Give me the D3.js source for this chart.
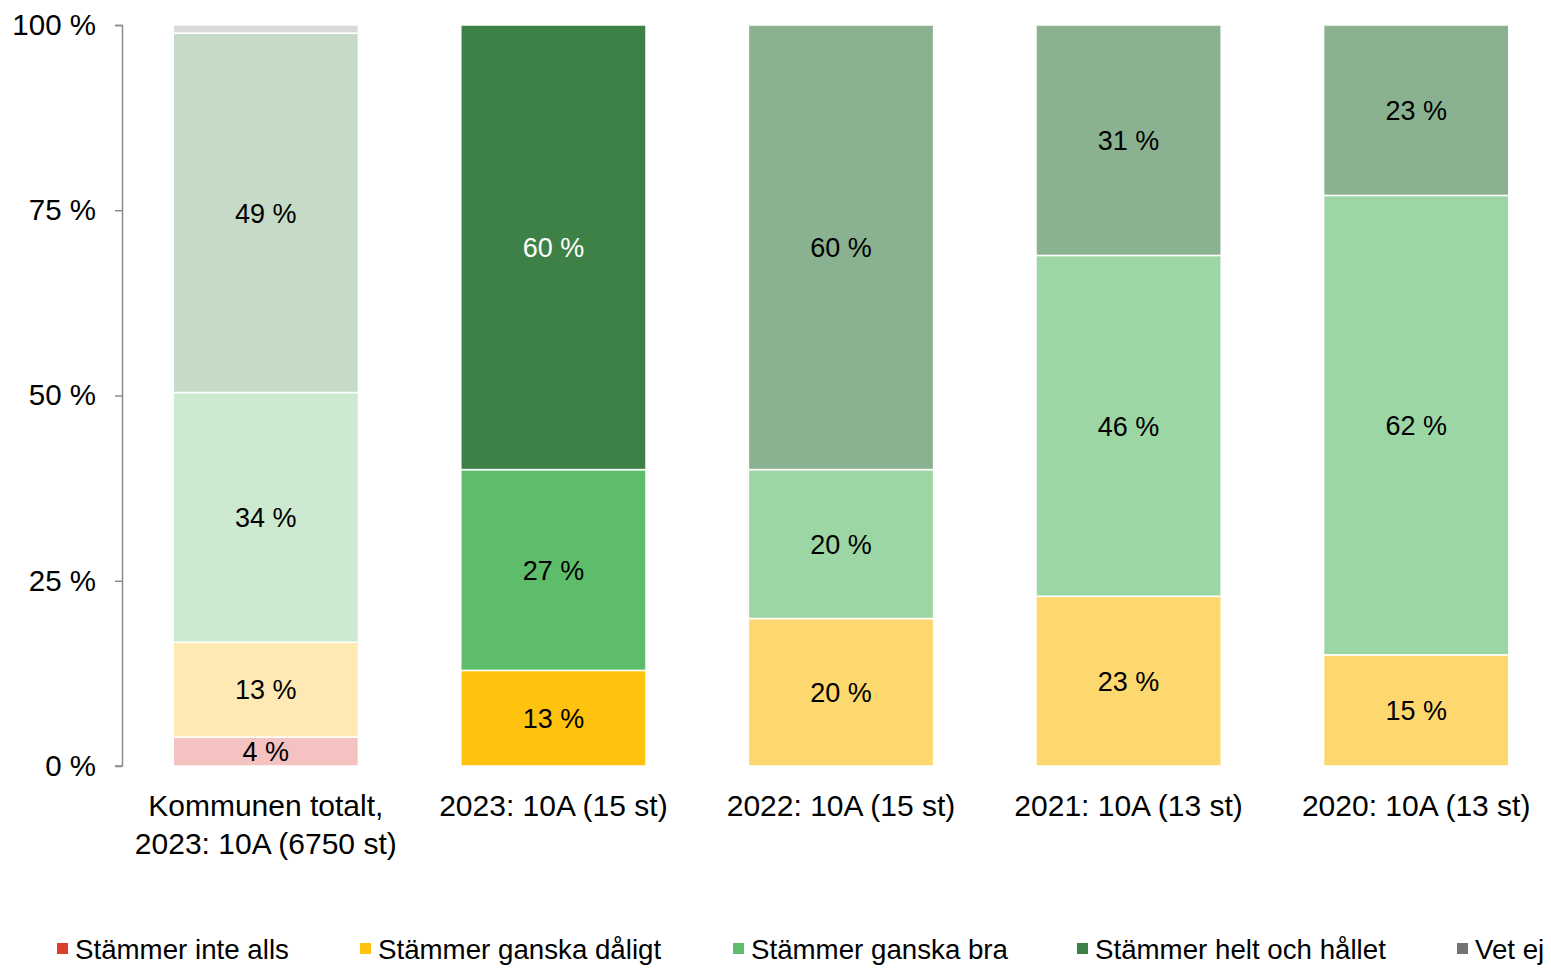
<!DOCTYPE html>
<html>
<head>
<meta charset="utf-8">
<script src="https://cdn.jsdelivr.net/npm/d3@7"></script>
<style>
    body { margin: 0; background: #fff; }
    text { font-family: "Liberation Sans", Arial, sans-serif; }
</style>
</head>
<body>
<div id="chart"></div>
<script>
// data (percent of answers per group)
const categories = [
    ["Kommunen totalt,", "2023: 10A (6750 st)"],
    ["2023: 10A (15 st)"],
    ["2022: 10A (15 st)"],
    ["2021: 10A (13 st)"],
    ["2020: 10A (13 st)"]
];
const seriesNames = ["Stämmer inte alls", "Stämmer ganska dåligt", "Stämmer ganska bra", "Stämmer helt och hållet", "Vet ej"];
const inteAlls     = [3.9, 0, 0, 0, 0];
const ganskaDaligt = [12.8, 12.9, 19.9, 22.9, 15.0];
const ganskaBra    = [33.7, 27.1, 20.1, 46.0, 62.0];
const heltOchHallet = [48.5, 60.0, 60.0, 31.1, 23.0];
const vetEj        = [1.1, 0, 0, 0, 0];
const yTicks = [0, 25, 50, 75, 100];

// colours: legend (full), municipality bar (faded), earlier years (semi-faded)
const legendColors = ["#d9412e", "#ffc20e", "#5ebd6a", "#3e8146", "#737373"];
const barColors = [
    ["#f4c2c0", "#fee9b4", "#cde9d0", "#c5dbc7", "#d9d9d9"],
    ["#d9412e", "#ffc20e", "#5ebd6a", "#3e8146", "#737373"],
    ["#eba39a", "#fdd86e", "#9dd6a5", "#8ab290", "#b0b0b0"],
    ["#eba39a", "#fdd86e", "#9dd6a5", "#8ab290", "#b0b0b0"],
    ["#eba39a", "#fdd86e", "#9dd6a5", "#8ab290", "#b0b0b0"]
];

const W = 1551, H = 968;
const svg = d3.select("#chart").append("svg")
    .attr("width", W)
    .attr("height", H);

const allSeries = [inteAlls, ganskaDaligt, ganskaBra, heltOchHallet, vetEj];
const rows = categories.map((c, i) => {
    const r = { idx: i };
    allSeries.forEach((s, k) => r[k] = s[i]);
    return r;
});
const keys = d3.range(allSeries.length);
const stacked = d3.stack().keys(keys)(rows);

const x = d3.scaleBand()
    .domain(d3.range(categories.length))
    .range([122, 1560])
    .paddingInner(0.356)
    .paddingOuter(0.178);

const y = d3.scaleLinear()
    .domain([0, 100])
    .range([766, 25]);

// y axis
const yAxis = svg.append("g")
    .attr("transform", "translate(122,0)")
    .call(d3.axisLeft(y).tickValues(yTicks).tickSize(7).tickFormat(d => d + " %"));
yAxis.select(".domain").attr("stroke", "#8c8c8c").attr("stroke-width", 1.5)
    .attr("d", "M-7,25.5H0.5V766H-7");
yAxis.selectAll(".tick line").attr("stroke", "#8c8c8c").attr("stroke-width", 1.5);
yAxis.selectAll(".tick text")
    .attr("x", -26)
    .attr("fill", "#000")
    .style("font-size", "29.5px");

// stacked bars
stacked.forEach((layer, k) => {
    svg.append("g")
        .selectAll("rect")
        .data(layer)
        .enter().append("rect")
        .attr("x", d => x(d.data.idx))
        .attr("y", d => y(d[1]))
        .attr("width", x.bandwidth())
        .attr("height", d => Math.max(0, y(d[0]) - y(d[1])))
        .attr("fill", d => barColors[d.data.idx][k])
        .attr("stroke", "#fff")
        .attr("stroke-width", 1.5);
});

// value labels
stacked.forEach((layer, k) => {
    svg.append("g")
        .selectAll("text")
        .data(layer.filter(d => d[1] - d[0] >= 2))
        .enter().append("text")
        .attr("x", d => x(d.data.idx) + x.bandwidth() / 2)
        .attr("y", d => y((d[0] + d[1]) / 2))
        .attr("dy", "0.36em")
        .attr("text-anchor", "middle")
        .attr("fill", d => (d.data.idx === 1 && k === 3) ? "#fff" : "#000")
        .style("font-size", "27px")
        .text(d => Math.round(d[1] - d[0]) + " %");
});

// category labels
categories.forEach((lines, i) => {
    const t = svg.append("text")
        .attr("x", x(i) + x.bandwidth() / 2)
        .attr("y", 816)
        .attr("text-anchor", "middle")
        .style("font-size", "30px");
    lines.forEach((l, j) => {
        t.append("tspan")
            .attr("x", x(i) + x.bandwidth() / 2)
            .attr("dy", j === 0 ? 0 : 38)
            .text(l);
    });
});

// legend
const legendX = [57, 360, 733, 1077, 1457];
const legend = svg.append("g");
seriesNames.forEach((name, i) => {
    legend.append("rect")
        .attr("x", legendX[i])
        .attr("y", 943)
        .attr("width", 11)
        .attr("height", 11)
        .attr("fill", legendColors[i]);
    legend.append("text")
        .attr("x", legendX[i] + 18)
        .attr("y", 959)
        .style("font-size", "27.7px")
        .text(name);
});
</script>
</body>
</html>
